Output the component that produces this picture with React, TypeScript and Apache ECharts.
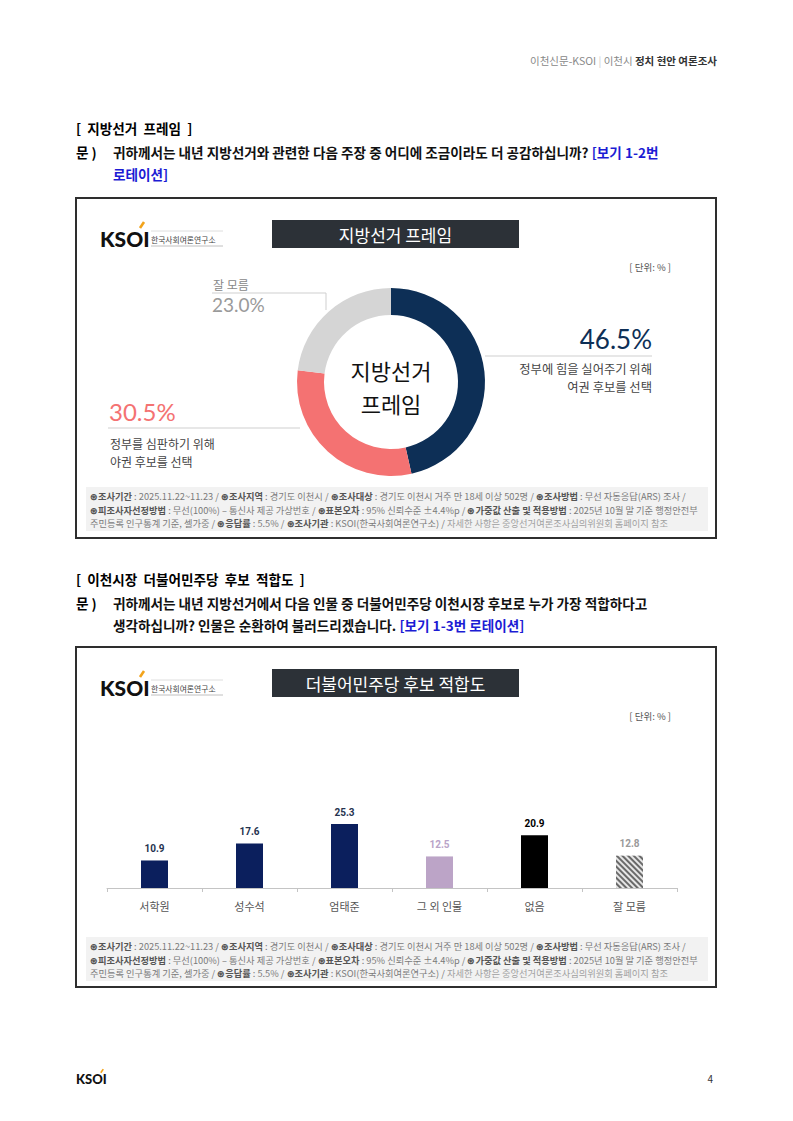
import React, { useEffect, useRef } from 'react';
import * as echarts from 'echarts';

// ---------- data ----------
const pieNames = ['정부에 힘을 실어주기 위해 여권 후보를 선택', '정부를 심판하기 위해 야권 후보를 선택', '잘 모름'];
const pieValues = [46.5, 30.5, 23.0];
const pieColors = ['#0d2f56', '#f47272', '#d5d5d5'];

const barCategories = ['서학원', '성수석', '엄태준', '그 외 인물', '없음', '잘 모름'];
const barValues = [10.9, 17.6, 25.3, 12.5, 20.9, 12.8];
const barColors = ['#0b1f5d', '#0b1f5d', '#0b1f5d', '#bca4c7', '#000000', '#d9d9d9'];
const barLabelColors = ['#26334f', '#26334f', '#26334f', '#b9a3c8', '#000000', '#9a9a9a'];

const KR = "'Noto Sans CJK KR', 'Noto Sans', sans-serif";

const footLines: [string, string][][] = [
  [
    ['b', '⊛조사기간'], ['n', ' : 2025.11.22~11.23 / '], ['b', '⊛조사지역'], ['n', ' : 경기도 이천시 / '],
    ['b', '⊛조사대상'], ['n', ' : 경기도 이천시 거주 만 18세 이상 502명 / '], ['b', '⊛조사방법'], ['n', ' : 무선 자동응답(ARS) 조사 /'],
  ],
  [
    ['b', '⊛피조사자선정방법'], ['n', ' : 무선(100%) – 통신사 제공 가상번호 / '], ['b', '⊛표본오차'], ['n', ' : 95% 신뢰수준 ±4.4%p / '],
    ['b', '⊛가중값 산출 및 적용방법'], ['n', ' : 2025년 10월 말 기준 행정안전부'],
  ],
  [
    ['n', '주민등록 인구통계 기준, 셀가중 / '], ['b', '⊛응답률'], ['n', ' : 5.5% / '], ['b', '⊛조사기관'],
    ['n', ' : KSOI(한국사회여론연구소) / '], ['l', '자세한 사항은 중앙선거여론조사심의위원회 홈페이지 참조'],
  ],
];

function txt(x: number, y: number, text: string, o: any = {}) {
  return {
    type: 'text', x, y, silent: true, z: 10,
    style: {
      text, fill: o.fill || '#000', fontSize: o.fontSize || 12, fontFamily: o.fontFamily || KR,
      fontWeight: o.fontWeight || 'normal', textAlign: o.align || 'left', textVerticalAlign: 'middle',
    },
  };
}

function rich(x: number, y: number, text: string, richDef: any, align = 'left') {
  return {
    type: 'text', x, y, silent: true, z: 10,
    style: { text, rich: richDef, textAlign: align, textVerticalAlign: 'middle', fontFamily: KR },
  };
}

function line(x1: number, y1: number, x2: number, y2: number, stroke = '#cfcfcf', w = 1) {
  return { type: 'line', silent: true, z: 5, shape: { x1, y1, x2, y2 }, style: { stroke, lineWidth: w } };
}

function logo(x: number, y: number, s: number, withName: boolean) {
  const els: any[] = [
    txt(x, y, 'KSOI', { fontSize: 21 * s, fontWeight: 900, fontFamily: "'Lato', 'Roboto', sans-serif", fill: '#111' }),
    line(x + 40 * s, y - 10 * s, x + 44 * s, y - 16 * s, '#f2a31b', 2.6 * s),
  ];
  if (withName) {
    els.push(txt(x + 51, y + 1, '한국사회여론연구소', { fontSize: 7.8, fill: '#444' }));
    els.push(line(x + 51, y - 7, x + 123, y - 7, '#d6d6d6', 0.8));
    els.push(line(x + 51, y + 8, x + 123, y + 8, '#c0c0c0', 1));
  }
  return els;
}

function footnote(top: number) {
  const els: any[] = [
    { type: 'rect', silent: true, z: 1, shape: { x: 86, y: top, width: 622, height: 44 }, style: { fill: '#f2f2f2' } },
  ];
  const fs = 9.25;
  const richDef = {
    b: { fontSize: fs, fontWeight: 'bold', fill: '#555', fontFamily: KR },
    n: { fontSize: fs, fill: '#7a7a7a', fontFamily: KR },
    l: { fontSize: fs, fill: '#a0a0a0', fontFamily: KR },
  };
  footLines.forEach((segs, i) => {
    const t = segs.map(([k, s]) => `{${k}|${s}}`).join('');
    els.push(rich(90, top + 9 + i * 13.5, t, richDef));
  });
  return els;
}

function box(top: number, title: string) {
  return [
    { type: 'rect', silent: true, z: 2, shape: { x: 76, y: top, width: 640, height: 340 }, style: { fill: 'none', stroke: '#2e2e2e', lineWidth: 2 } },
    { type: 'rect', silent: true, z: 3, shape: { x: 272, y: top + 22, width: 247, height: 28 }, style: { fill: '#2c3137' } },
    txt(395.5, top + 36, title, { fontSize: 17, fill: '#fff', align: 'center' }),
    ...logo(100, top + 40, 1, true),
    txt(671, top + 69, '[ 단위: % ]', { fontSize: 9.5, fill: '#555', align: 'right' }),
  ];
}

const QF = 13.6;
const qRich = {
  n: { fontSize: QF, fontWeight: 'bold', fill: '#111', fontFamily: KR },
  b: { fontSize: QF, fontWeight: 'bold', fill: '#1c1cd4', fontFamily: KR },
};

const pct = (v: number) => `${v.toFixed(1)}%`;

const graphics: any[] = [
  // header
  rich(717, 60, '{a|이천신문-KSOI}{s| | }{a|이천시 }{b|정치 현안 여론조사}', {
    a: { fontSize: 10.5, fill: '#888', fontFamily: KR },
    s: { fontSize: 10.5, fill: '#ccc', fontFamily: KR },
    b: { fontSize: 10.5, fill: '#333', fontWeight: 'bold', fontFamily: KR },
  }, 'right'),

  // section 1
  txt(76, 128, '[  지방선거  프레임  ]', { fontSize: QF, fontWeight: 'bold' }),
  txt(76, 152, '문 )', { fontSize: QF, fontWeight: 'bold' }),
  rich(113, 152, '{n|귀하께서는 내년 지방선거와 관련한 다음 주장 중 어디에 조금이라도 더 공감하십니까? }{b|[보기 1-2번}', qRich),
  rich(113, 174, '{b|로테이션]}', qRich),
  ...box(198, '지방선거 프레임'),

  // donut centre
  txt(391, 370, '지방선거', { fontSize: 22, align: 'center', fill: '#111' }),
  txt(391, 402.5, '프레임', { fontSize: 22, align: 'center', fill: '#111' }),

  // slice 1 label
  txt(652, 339, pct(pieValues[0]), { fontSize: 26, align: 'right', fill: pieColors[0], fontFamily: "'Lato', 'Noto Sans', sans-serif" }),
  line(485, 356, 652, 356),
  txt(652, 369, '정부에 힘을 실어주기 위해', { fontSize: 12.3, align: 'right', fill: '#444' }),
  txt(652, 387, '여권 후보를 선택', { fontSize: 12.3, align: 'right', fill: '#444' }),

  // slice 2 label
  txt(109, 411, pct(pieValues[1]), { fontSize: 24, fill: pieColors[1], fontFamily: "'Lato', 'Noto Sans', sans-serif" }),
  line(108, 428, 300, 428),
  txt(110, 443, '정부를 심판하기 위해', { fontSize: 12, fill: '#444' }),
  txt(110, 461, '야권 후보를 선택', { fontSize: 12, fill: '#444' }),

  // slice 3 label
  txt(213, 284, pieNames[2], { fontSize: 12, fill: '#888' }),
  { type: 'polyline', silent: true, z: 5, shape: { points: [[212, 293], [326, 293], [326, 310]] }, style: { stroke: '#cfcfcf', lineWidth: 1, fill: 'none' } },
  txt(212, 304, pct(pieValues[2]), { fontSize: 19, fill: '#9a9a9a', fontFamily: "'Lato', 'Noto Sans', sans-serif" }),

  ...footnote(487),

  // section 2
  txt(76, 579, '[  이천시장  더불어민주당  후보  적합도  ]', { fontSize: QF, fontWeight: 'bold' }),
  txt(76, 603, '문 )', { fontSize: QF, fontWeight: 'bold' }),
  rich(113, 603, '{n|귀하께서는 내년 지방선거에서 다음 인물 중 더불어민주당 이천시장 후보로 누가 가장 적합하다고}', qRich),
  rich(113, 625, '{n|생각하십니까? 인물은 순환하여 불러드리겠습니다. }{b|[보기 1-3번 로테이션]}', qRich),
  ...box(647, '더불어민주당 후보 적합도'),
  ...footnote(937),

  // footer
  ...logo(76, 1079, 0.62, false),
  txt(713, 1078, '4', { fontSize: 10, fill: '#333', align: 'right' }),
];

const option: any = {
  animation: false,
  backgroundColor: '#fff',
  graphic: { elements: graphics },
  grid: { left: 107, right: 793 - 677, top: 787, height: 101 },
  xAxis: {
    type: 'category',
    data: barCategories,
    axisLine: { lineStyle: { color: '#c4c4c4', width: 1 } },
    axisTick: { show: true, length: 4, lineStyle: { color: '#c4c4c4' } },
    axisLabel: { fontSize: 11, color: '#555', margin: 12, fontFamily: KR },
  },
  yAxis: { type: 'value', min: 0, max: 40, show: false, splitLine: { show: false } },
  series: [
    {
      type: 'pie',
      center: [391, 382],
      radius: [67, 94],
      startAngle: 90,
      clockwise: true,
      label: { show: false },
      labelLine: { show: false },
      silent: true,
      data: pieValues.map((v, i) => ({ name: pieNames[i], value: v, itemStyle: { color: pieColors[i] } })),
    },
    {
      type: 'bar',
      barWidth: 27,
      silent: true,
      data: barValues.map((v, i) => ({
        value: v,
        itemStyle: i === 5
          ? { color: '#e6e6e6', decal: { symbol: 'rect', symbolSize: 1, dashArrayX: [1, 0], dashArrayY: [2, 2], rotation: Math.PI / 4, color: '#6a6a6a' } }
          : { color: barColors[i] },
        label: { color: barLabelColors[i] },
      })),
      label: {
        show: true, position: 'top', distance: 7, fontSize: 10, fontWeight: 'bold',
        fontFamily: "'Roboto', 'Noto Sans', sans-serif",
        formatter: (p: any) => p.value.toFixed(1),
      },
    },
  ],
};

export default function App() {
  const ref = useRef<HTMLDivElement>(null);
  useEffect(() => {
    const chart = echarts.init(ref.current!, null, { renderer: 'svg' });
    chart.setOption(option);
    return () => chart.dispose();
  }, []);
  return (
    <div
      ref={ref}
      style={{ position: 'absolute', left: 0, top: 0, width: 793, height: 1121, background: '#fff' }}
    />
  );
}
